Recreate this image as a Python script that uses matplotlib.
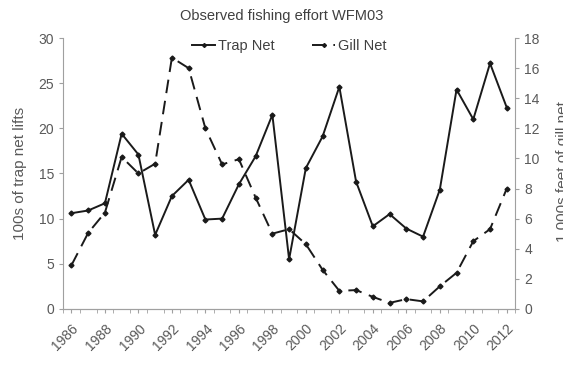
import matplotlib
matplotlib.use("Agg")
import matplotlib.pyplot as plt
from matplotlib.ticker import MultipleLocator

plt.rcParams['font.family'] = ['Liberation Sans', 'DejaVu Sans']

years = list(range(1986, 2013))
trap_net = [10.6, 10.9, 11.7, 19.4, 17.1, 8.2, 12.5, 14.3, 9.9, 10.0,
            13.8, 16.9, 21.5, 5.5, 15.6, 19.1, 24.6, 14.1, 9.15, 10.5,
            8.9, 8.0, 13.2, 24.3, 21.0, 27.2, 22.3]
gill_net = [2.9, 5.05, 6.4, 10.1, 9.0, 9.65, 16.7, 16.0, 12.0, 9.6,
            9.95, 7.4, 5.0, 5.3, 4.3, 2.6, 1.2, 1.25, 0.8, 0.4,
            0.65, 0.5, 1.5, 2.4, 4.5, 5.3, 8.0]
year_labels = [str(y) for y in range(1986, 2013, 2)]

grey = "#595959"
fig = plt.figure(figsize = (5.63, 3.66), dpi = 100)
ax = fig.add_axes([0.112, 0.156, 0.803, 0.740])
ax2 = ax.twinx()

l1, = ax.plot(years, trap_net, color = "#1a1a1a", lw = 1.4, marker = "D", ms = 2.5, label = "Trap Net")
l2, = ax2.plot(years, gill_net, color = "#1a1a1a", lw = 1.4, marker = "D", ms = 2.5,
               dashes = (7, 4), label = "Gill Net")

ax.set_xlim(1985.5, 2012.5)
ax.set_ylim(0, 30)
ax2.set_ylim(0, 18)
ax.set_yticks(range(0, 31, 5))
ax2.set_yticks(range(0, 19, 2))
ax.set_xticks(range(1986, 2013, 2))
ax.set_xticklabels(year_labels, rotation = 45, ha = "right", rotation_mode = "anchor")
ax.xaxis.set_minor_locator(MultipleLocator(1, offset = 0.5))
ax.tick_params(axis = "x", which = "major", length = 0, pad = 6)
ax.tick_params(axis = "x", which = "minor", length = 3, color = "#a0a0a0")

for a in (ax, ax2):
    for s in a.spines.values():
        s.set_color("#a0a0a0")
    a.spines["top"].set_visible(False)
    a.tick_params(colors = grey, labelsize = 10, length = 3)
    a.tick_params(axis = "both", which = "both", color = "#a0a0a0")
ax.spines["right"].set_visible(False)
ax2.spines["left"].set_visible(False)

ax.set_ylabel("100s of trap net lifts", fontsize = 11, color = grey)
ax.yaxis.set_label_coords(-0.08, 0.5)
# right axis title is cut off by the figure edge in the original
fig.text(1.0, 0.53, "1,000s feet of gill net", rotation = 90, fontsize = 11,
         color = grey, ha = "center", va = "center")

fig.suptitle("Observed fishing effort WFM03", fontsize = 10.5, color = "#404040", y = 0.975)
ax.legend(handles = [l1, l2], loc = "upper center", bbox_to_anchor = (0.5, 1.045), ncol = 2,
          frameon = False, fontsize = 10.5, handlelength = 1.6, handletextpad = 0.15,
          columnspacing = 2.6, labelcolor = "#404040", markerscale = 0.8)

plt.savefig("out.png", format = "png")
plt.close(fig)
